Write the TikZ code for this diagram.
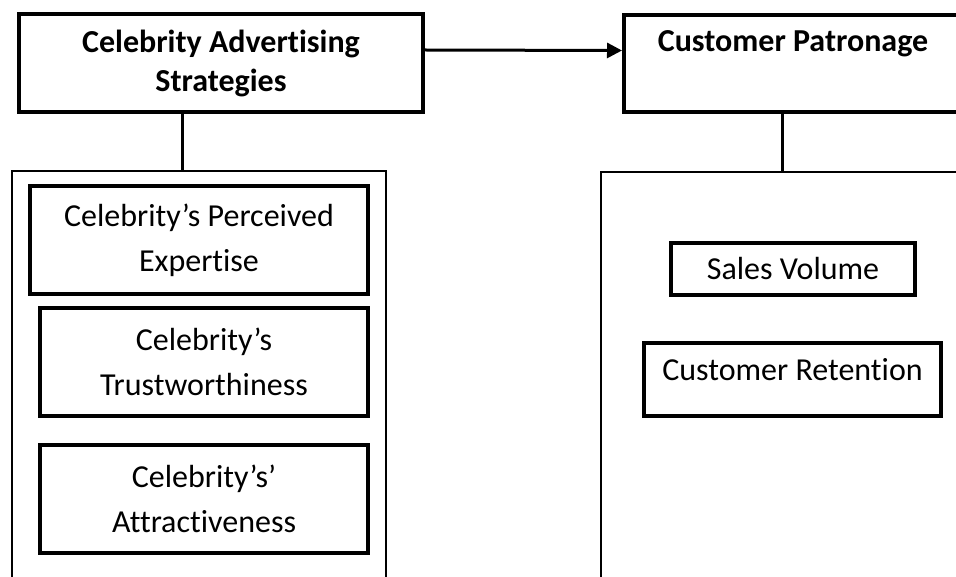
\documentclass[tikz,border=0pt]{standalone}
\usepackage{fontspec}
\setmainfont{Carlito}[Ligatures=NoCommon]
\usetikzlibrary{arrows.meta}
\begin{document}
\begin{tikzpicture}[x=1pt, y=-1pt,
    every node/.style={inner sep=0pt, font=\fontsize{32}{45}\selectfont},
    headbox/.style={draw, line width=4pt, font=\fontsize{32}{39}\selectfont\bfseries},
    itembox/.style={draw, line width=3.5pt, align=center},
    groupbox/.style={draw, line width=1.5pt},
    link/.style={line width=3pt}]
    \useasboundingbox (0,0) rectangle (956,577);
    \clip (0,0) rectangle (956,577);
    % Variabili
    \node[headbox, align=center, minimum width=404, minimum height=98] (cas) at (221,63)
        {Celebrity Advertising\\Strategies};
    \node[headbox, anchor=base, minimum width=338, text height=37, text depth=60] (cp) at (793,52)
        {Customer Patronage};
    % Riquadri
    \node[groupbox, minimum width=374, minimum height=469] (lbox) at (199,405.5) {};
    \node[groupbox, minimum width=363, minimum height=469] (rbox) at (782.5,406.5) {};
    % Dimensioni
    \node[itembox, minimum width=338, minimum height=108] (exp) at (199,240)
        {Celebrity’s Perceived\\Expertise};
    \node[itembox, minimum width=328, minimum height=108] (trust) at (204,362)
        {Celebrity’s\\Trustworthiness};
    \node[itembox, minimum width=328, minimum height=108] (attr) at (204,499)
        {Celebrity’s’\\Attractiveness};
    \node[itembox, minimum width=244, minimum height=52] (sales) at (793,269)
        {Sales Volume};
    \node[itembox, anchor=base, minimum width=297, text height=37, text depth=36] (ret) at (792.5,380)
        {Customer Retention};
    % Linee
    \draw[link, -{Triangle[length=15pt,width=15pt]}] ([yshift=13pt]cas.east) -- ([yshift=13pt]cp.west);
    \draw[link] ([xshift=-39pt]cas.south) -- ([xshift=-39pt]cas.south |- lbox.north);
    \draw[link] (rbox.north |- cp.south) -- (rbox.north);
\end{tikzpicture}
\end{document}
